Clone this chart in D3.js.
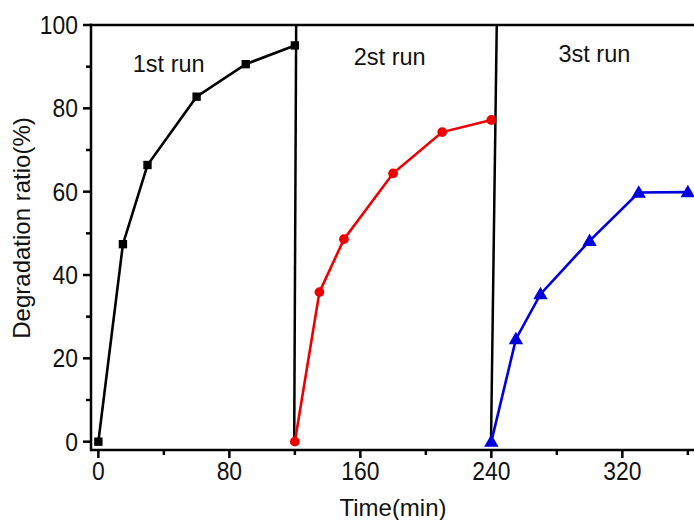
<!DOCTYPE html>
<html><head><meta charset="utf-8">
<script src="https://cdn.jsdelivr.net/npm/d3@7"></script>
<style>body{margin:0;background:#fff}svg{display:block}text{font-family:"Liberation Sans",Arial,sans-serif;fill:#111}</style>
</head><body>
<svg id="c" width="694" height="520"></svg>
<script>
const run1 = [[0,0],[15,47.4],[30,66.4],[60,82.8],[90,90.6],[120,95.1]];
const run2 = [[120,0],[135,35.9],[150,48.6],[180,64.4],[210,74.3],[240,77.2]];
const run3 = [[240,0],[255,24.6],[270,35.4],[300,48.2],[330,59.8],[360,59.9]];
const separators = [[[120.8,100],[119.6,0]],[[243.3,100],[239.8,0]]];
const runLabels = [{t:"1st run",x:21,y:88.7},{t:"2st run",x:156,y:90.4},{t:"3st run",x:281,y:91.1}];
const xTicks = [0,80,160,240,320];
const xMinor = [40,120,200,280,360];
const yTicks = [0,20,40,60,80,100];
const yMinor = [10,30,50,70,90];

const svg = d3.select("#c");
const L=91, R=712.4, T=25, B=450;
const x = d3.scaleLinear().domain([-4.5,375]).range([L,R]);
const y = d3.scaleLinear().domain([-2,100]).range([B,T]);

// ticks
const g = svg.append("g");
xTicks.forEach(v=>g.append("line").attr("x1",x(v)).attr("x2",x(v)).attr("y1",B).attr("y2",B+8).attr("stroke","#000").attr("stroke-width",2.5));
xMinor.forEach(v=>g.append("line").attr("x1",x(v)).attr("x2",x(v)).attr("y1",B).attr("y2",B+5).attr("stroke","#000").attr("stroke-width",2.5));
yTicks.forEach(v=>g.append("line").attr("x1",L).attr("x2",L-8).attr("y1",y(v)).attr("y2",y(v)).attr("stroke","#000").attr("stroke-width",2.5));
yMinor.forEach(v=>g.append("line").attr("x1",L).attr("x2",L-5).attr("y1",y(v)).attr("y2",y(v)).attr("stroke","#000").attr("stroke-width",2.5));
xTicks.forEach(v=>g.append("text").attr("transform",`translate(${x(v)},480) scale(0.88,1)`).attr("text-anchor","middle").attr("font-size",26).text(v));
yTicks.forEach(v=>g.append("text").attr("transform",`translate(78,${y(v)+9}) scale(0.88,1)`).attr("text-anchor","end").attr("font-size",26).text(v));

// frame
svg.append("line").attr("x1",L).attr("x2",700).attr("y1",B).attr("y2",B).attr("stroke","#000").attr("stroke-width",2.5);
svg.append("line").attr("x1",L-1).attr("x2",700).attr("y1",T).attr("y2",T).attr("stroke","#000").attr("stroke-width",2.5);
svg.append("line").attr("x1",L).attr("x2",L).attr("y1",T-1.2).attr("y2",B+1.2).attr("stroke","#000").attr("stroke-width",2.5);

// separators
const line = d3.line().x(d=>x(d[0])).y(d=>y(d[1]));
separators.forEach(s=>svg.append("path").attr("d",line(s)).attr("fill","none").attr("stroke","#000").attr("stroke-width",2.5));

// series
function drawSeries(data,color,shape){
  svg.append("path").attr("d",line(data)).attr("fill","none").attr("stroke",color).attr("stroke-width",2.6);
  const sym = d3.symbol().type(shape).size(shape===d3.symbolTriangle?90:(shape===d3.symbolSquare?70:75));
  svg.selectAll(null).data(data).enter().append("path")
    .attr("d",sym).attr("transform",d=>`translate(${x(d[0])},${y(d[1])+(shape===d3.symbolTriangle?1:0)})`).attr("fill",color);
}
drawSeries(run1,"#000",d3.symbolSquare);
drawSeries(run2,"#ee0000",d3.symbolCircle);
drawSeries(run3,"#0000dd",d3.symbolTriangle);

runLabels.forEach(r=>svg.append("text").attr("x",x(r.x)).attr("y",y(r.y)).attr("font-size",23.5).text(r.t));

svg.append("text").attr("x",393).attr("y",516).attr("text-anchor","middle").attr("font-size",24).text("Time(min)");
svg.append("text").attr("transform","translate(30,228) rotate(-90)").attr("text-anchor","middle").attr("font-size",24).text("Degradation ratio(%)");
</script>
</body></html>
